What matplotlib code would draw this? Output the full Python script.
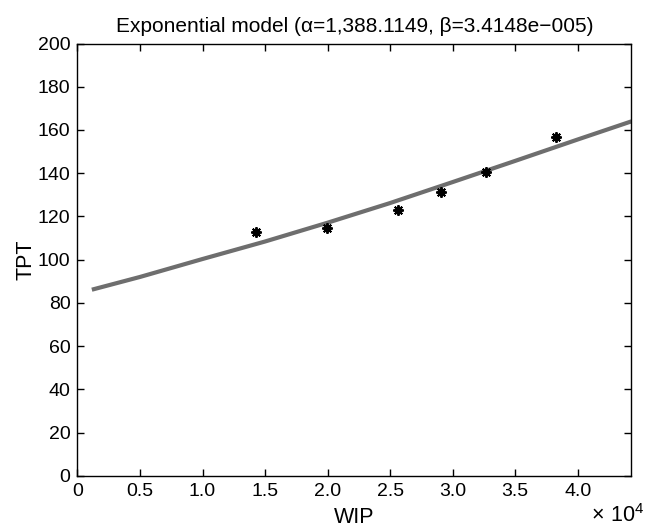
import numpy as np
import matplotlib
matplotlib.use("Agg")
import matplotlib.pyplot as plt

plt.rcParams['font.family'] = ['Liberation Sans', 'DejaVu Sans']
plt.rcParams['mathtext.fontset'] = 'custom'
plt.rcParams['mathtext.rm'] = 'Liberation Sans'

# observed points
wip = [14250, 19940, 25600, 29060, 32650, 38230]
tpt = [112.6, 114.7, 123.1, 131.2, 140.6, 156.8]

# fitted exponential model curve
fit_wip = [1150, 5000, 10000, 15000, 20000, 25000, 30000, 35000, 40000, 44300]
fit_tpt = [86.1, 92.0, 100.3, 108.4, 117.1, 126.2, 135.9, 145.7, 155.6, 164.0]

xticks = [0, 5000, 10000, 15000, 20000, 25000, 30000, 35000, 40000]
xticklabels = ['0', '0.5', '1.0', '1.5', '2.0', '2.5', '3.0', '3.5', '4.0']
yticks = list(range(0, 201, 20))

fig = plt.figure(figsize=(6.51, 5.31), dpi=100)
ax = fig.add_axes([0.119, 0.104, 0.851, 0.814])

ax.plot(fit_wip, fit_tpt, color='#6e6e6e', lw=3.0, solid_capstyle='butt', zorder=2)
ax.plot(wip, tpt, linestyle='none', marker=(8, 2, 0), markersize=7.5,
        markeredgecolor='black', markeredgewidth=1.4, zorder=3)

ax.set_xlim(0, 44300)
ax.set_ylim(0, 200)
ax.set_xticks(xticks)
ax.set_xticklabels(xticklabels)
ax.set_yticks(yticks)
ax.tick_params(direction='in', top=True, right=True, length=5, width=1,
               labelsize=14, pad=5)
for s in ax.spines.values():
    s.set_linewidth(1)

ax.set_title('Exponential model (\u03b1=1,388.1149, \u03b2=3.4148e\u2212005)',
             fontsize=15, pad=8)
ax.set_xlabel('WIP', fontsize=15.5, labelpad=5)
ax.set_ylabel('TPT', fontsize=15.5, labelpad=1)
fig.text(0.99, 0.008, r'$\times\ 10^4$', fontsize=15.5, ha='right', va='bottom')

fig.savefig('out.png', dpi=100)
